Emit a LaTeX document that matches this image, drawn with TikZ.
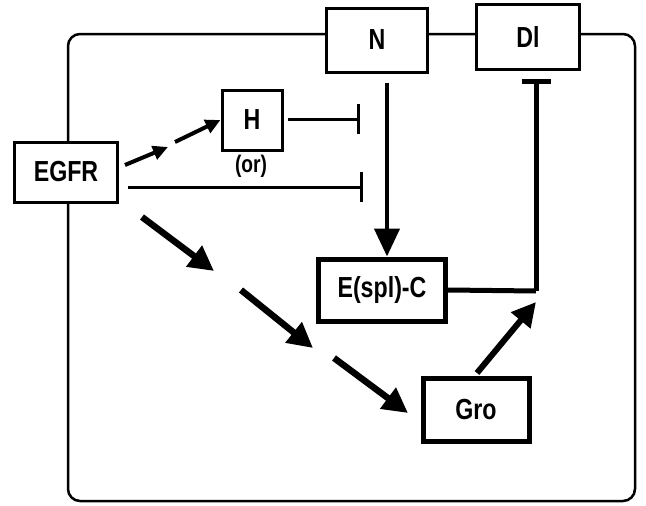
\documentclass[tikz,border=0pt]{standalone}
\usepackage{fontspec}
\setmainfont{Liberation Sans}
\newfontfamily\labfont[FakeStretch=0.8]{Liberation Sans}
\usetikzlibrary{arrows.meta}
\begin{document}
\begin{tikzpicture}[x=1pt,y=-1pt,
  box/.style={draw,line width=3pt,fill=white,inner sep=0pt,font=\labfont\fontsize{29}{31}\selectfont\bfseries},
  thickbox/.style={box,line width=5pt},
  act/.style={line width=6.5pt,-{Triangle[length=25pt,width=25pt]}},
  smallact/.style={line width=4pt,-{Triangle[length=15pt,width=14pt]}},
  inh/.style={line width=3pt,-{Bar[width=30pt,line width=3.5pt]}}]
\useasboundingbox (0,0) rectangle (646,506);
% outer frame
\draw[line width=2.5pt,rounded corners=12pt] (68,34) rectangle (635,501);
% boxes
\node[box,minimum width=101pt,minimum height=64pt] (N) at (377,40) {N};
\node[box,minimum width=103pt,minimum height=65pt] (Dl) at (528,37) {Dl};
\node[box,minimum width=60pt,minimum height=60pt] (H) at (252,120) {H};
\node[font=\labfont\fontsize{24}{26}\selectfont\bfseries] (or) at (251,166) {(or)};
\node[box,minimum width=103pt,minimum height=60pt] (EGFR) at (66,172) {EGFR};
\node[thickbox,minimum width=127pt,minimum height=62pt] (E) at (382,290) {E(spl)-C};
\node[thickbox,minimum width=106pt,minimum height=63pt] (Gro) at (476,410) {Gro};
% helper coordinates
\coordinate (hs) at (288,119);
\coordinate (hin) at (360,119);
\coordinate (es) at (128,187);
\coordinate (ein) at (363,187);
\coordinate (ns) at (387,83);
\coordinate (dlbar) at (536,79);
\coordinate (corner) at (536,291);
\coordinate (gros) at (477,373);
\coordinate (groend) at (536,302);
\coordinate (a1s) at (125,165); \coordinate (a1e) at (168,147);
\coordinate (a2s) at (175,142);
\coordinate (b1s) at (142,217); \coordinate (b1e) at (214,271);
\coordinate (b2s) at (241,290); \coordinate (b2e) at (313,348);
\coordinate (b3s) at (334,358); \coordinate (b3e) at (408,413);
% EGFR -> H (broken arrow)
\draw[smallact] (a1s) -- (a1e);
\draw[smallact] (a2s) -- (H.west);
% inhibitions
\draw[inh] (hs) -- (hin);
\draw[inh] (es) -- (ein);
% N -> E(spl)-C
\draw[line width=4.5pt,-{Triangle[length=28pt,width=25pt]}] (ns) -- (E.north -| ns);
% E(spl)-C -| Dl
\draw[line width=5pt] (E.east) -- (corner);
\draw[line width=5pt,-{Bar[width=29pt,line width=5pt]}] (corner) -- (dlbar);
% Gro -> junction
\draw[line width=6pt,-{Triangle[length=24pt,width=24pt]}] (gros) -- (groend);
% EGFR -> Gro (broken)
\draw[act] (b1s) -- (b1e);
\draw[act] (b2s) -- (b2e);
\draw[act] (b3s) -- (b3e);
\end{tikzpicture}
\end{document}
